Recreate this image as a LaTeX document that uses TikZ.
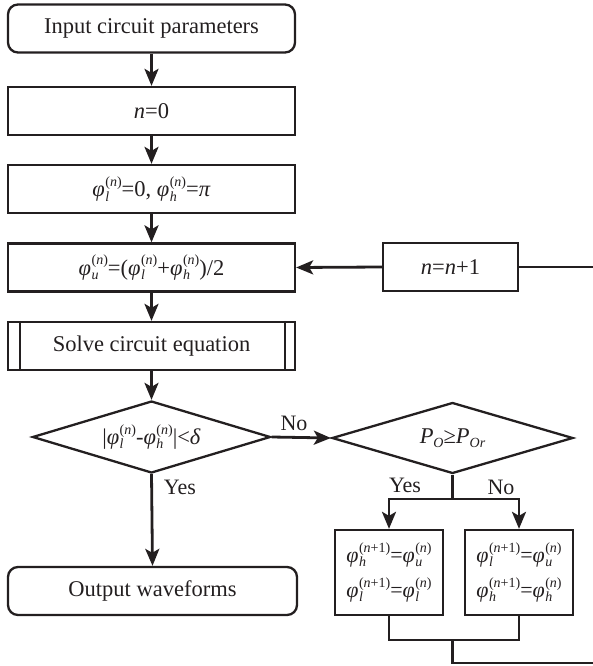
\documentclass[tikz,border=0pt]{standalone}
\usepackage{fontspec}
\setmainfont{Liberation Serif}
\usetikzlibrary{shapes.geometric,arrows.meta}
\definecolor{ink}{RGB}{35,31,32}
\newcommand\scrf[1]{{\fontsize{14}{14}\selectfont #1}}
\newcommand\sv[3]{{\itshape #1}\kern0.5pt\rlap{\raisebox{-0.2em}{\scrf{\itshape #2}}}\raisebox{0.45em}{\scrf{#3}}}
\newcommand\nn{(\textit{n})}
\newcommand\np{(\textit{n}+1)}
\begin{document}
\begin{tikzpicture}[x=1pt,y=-1pt,
  font=\fontsize{22.5}{27}\selectfont,
  box/.style={draw=ink, line width=2.3pt, rectangle, minimum width=287pt, minimum height=48pt, inner sep=0pt, text=ink},
  rbox/.style={box, rounded corners=10pt},
  dia/.style={draw=ink, line width=2.3pt, diamond, aspect=3.3, minimum width=238pt, minimum height=72pt, inner sep=0pt, text=ink},
  conn/.style={draw=ink, line width=2.8pt, line join=miter},
  arr/.style={conn, -{Stealth[length=17pt,width=14pt,inset=4pt]}},
  lbl/.style={inner sep=0pt, text=ink, font=\fontsize{22}{26}\selectfont},
  bbox/.style={box, minimum width=108pt, minimum height=85pt, align=center, font=\fontsize{22}{35}\selectfont}]
\useasboundingbox (0,0) rectangle (593,666);
\node[rbox] (in) at (151.5,28.5) {Input circuit parameters};
\node[box] (n0) at (151.5,111) {\textit{n}=0};
\node[box] (init) at (151.5,189) {\sv{φ}{l}{\nn}=0, \sv{φ}{h}{\nn}=\textit{π}};
\node[box] (mid) at (151.5,267.5) {\sv{φ}{u}{\nn}=(\sv{φ}{l}{\nn}+\sv{φ}{h}{\nn})/2};
\node[box] (solve) at (151.5,346) {Solve circuit equation};
\draw[ink, line width=2.3pt] ([xshift=13pt]solve.north west) -- ([xshift=13pt]solve.south west);
\draw[ink, line width=2.3pt] ([xshift=-11pt]solve.north east) -- ([xshift=-11pt]solve.south east);
\node[dia] (d1) at (151.5,437) {|\sv{φ}{l}{\nn}-\sv{φ}{h}{\nn}|<\textit{δ}};
\node[dia, minimum width=241pt, minimum height=71pt] (d2) at (452.5,438) {\textit{P}\raisebox{-0.2em}{\scrf{\itshape O}}≥\textit{P}\raisebox{-0.2em}{\scrf{\itshape Or}}};
\node[rbox, minimum width=289pt] (out) at (152.5,591) {Output waveforms};
\node[box, minimum width=135pt] (inc) at (450.5,267) {\textit{n}=\textit{n}+1};
\node[bbox] (bh) at (389,572.5) {\sv{φ}{h}{\np}=\sv{φ}{u}{\nn}\\\sv{φ}{l}{\np}=\sv{φ}{l}{\nn}};
\node[bbox] (bl) at (519,572.5) {\sv{φ}{l}{\np}=\sv{φ}{u}{\nn}\\\sv{φ}{h}{\np}=\sv{φ}{h}{\nn}};
\coordinate (e1) at (593,267);
\coordinate (j1) at (452.5,499);
\coordinate (j2) at (452.5,640);
\coordinate (j3) at (452.5,663);
\coordinate (e2) at (593,663);
\draw[arr] (in) -- (n0);
\draw[arr] (n0) -- (init);
\draw[arr] (init) -- (mid);
\draw[arr] (mid) -- (solve);
\draw[arr] (solve) -- (d1);
\draw[arr] (d1.south) -- (out.north);
\draw[arr] (d1.east) -- (d2.west);
\draw[arr] (inc.west) -- (mid.east);
\draw[conn] (inc.east) -- (e1);
\draw[conn] (d2.south) -- (j1);
\draw[arr] (j1) -| (bh.north);
\draw[arr] (j1) -| (bl.north);
\draw[conn] (bh.south) |- (j2) -| (bl.south);
\draw[conn] (j2) -- (j3) -- (e2);
\node[lbl] (yes1) at (180,487) {Yes};
\node[lbl] (no1) at (294,423) {No};
\node[lbl] (yes2) at (405,485) {Yes};
\node[lbl] (no2) at (501,487) {No};
\end{tikzpicture}
\end{document}
